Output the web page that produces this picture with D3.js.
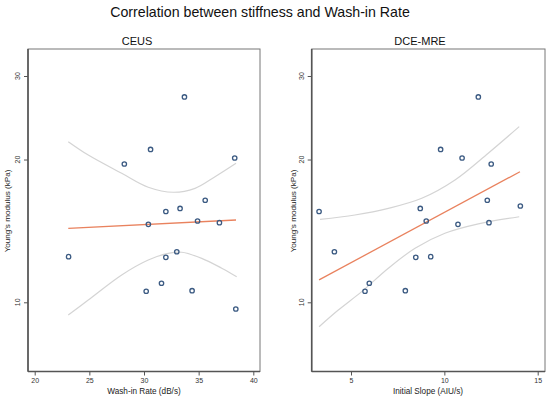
<!DOCTYPE html>
<html>
<head>
<meta charset="utf-8">
<script src="https://cdn.jsdelivr.net/npm/d3@7"></script>
<style>
  html, body { margin: 0; padding: 0; background: #fff; }
  svg { display: block; font-family: "Liberation Sans", Arial, Helvetica, sans-serif; }
</style>
</head>
<body>
<svg id="chart" width="550" height="399"></svg>
<script>
// ---------- data ----------
const mainTitle = "Correlation between stiffness and Wash-in Rate";
const panelTitles = ["CEUS", "DCE-MRE"];
const xTitles = ["Wash-in Rate (dB/s)", "Initial Slope (AIU/s)"];
const yTitle = "Young's modulus (kPa)";

const xTicksCEUS = [20, 25, 30, 35, 40];
const xTicksDCE = [5, 10, 15];
const yTicks = [10, 20, 30];

// CEUS scatter
const ceusX = [33.7, 30.6, 28.2, 38.3, 35.6, 33.3, 32.0, 30.4, 34.9, 36.9, 23.1, 32.0, 33.0, 30.2, 31.6, 34.4, 38.4];
const ceusY = [27.1, 21.0, 19.57, 20.15, 16.41, 15.77, 15.54, 14.60, 14.84, 14.72, 12.48, 12.44, 12.78, 10.55, 10.97, 10.58, 9.68];
// CEUS fit line and confidence band
const ceusFitX = [23.07, 38.42];
const ceusFitY = [14.32, 14.91];
const ceusUpX = [23.07, 24.9, 27.96, 30.39, 32.68, 34.67, 36.5, 38.42];
const ceusUpY = [21.81, 20.44, 18.71, 17.48, 17.06, 17.39, 18.40, 19.64];
const ceusLoX = [23.07, 24.9, 27.96, 30.39, 32.22, 33.45, 35.28, 37.11, 38.48];
const ceusLoY = [9.40, 10.11, 11.42, 12.28, 12.68, 12.75, 12.38, 11.80, 11.32];

// DCE-MRE scatter
const dceX = [11.82, 9.80, 10.95, 12.51, 12.30, 3.29, 8.71, 14.07, 9.03, 10.73, 12.39, 4.11, 8.47, 9.27, 5.98, 5.75, 7.91];
const dceY = [27.1, 21.0, 20.15, 19.57, 16.41, 15.54, 15.77, 15.96, 14.84, 14.60, 14.72, 12.78, 12.44, 12.48, 10.97, 10.55, 10.58];
// DCE-MRE fit line and confidence band
const dceFitX = [3.29, 14.05];
const dceFitY = [11.15, 18.85];
const dceUpX = [3.34, 5.21, 7.0, 8.79, 10.57, 12.35, 14.01];
const dceUpY = [14.96, 15.28, 15.78, 16.57, 18.11, 20.62, 23.46];
const dceLoX = [3.29, 4.32, 5.57, 7.0, 8.43, 10.03, 11.82, 14.01];
const dceLoY = [8.88, 9.63, 10.53, 11.80, 13.0, 13.98, 14.63, 15.15];

// ---------- drawing ----------
(function () {
const svg = d3.select("#chart");

svg.append("text")
  .attr("x", 260).attr("y", 17)
  .attr("text-anchor", "middle")
  .attr("font-size", 14.2)
  .attr("fill", "#111")
  .text(mainTitle);

const panels = [
  { left: 28, right: 260, titleX: 137, xTitleX: 144, yLabelX: 17, yTitleX: 7,
    xDomain: [20, 40], xPx: [34.7, 253.3], xTicks: xTicksCEUS,
    px: ceusX, py: ceusY, fx: ceusFitX, fy: ceusFitY,
    ux: ceusUpX, uy: ceusUpY, lx: ceusLoX, ly: ceusLoY,
    title: panelTitles[0], xTitle: xTitles[0] },
  { left: 311.7, right: 545, titleX: 420, xTitleX: 428, yLabelX: 301.5, yTitleX: 292.5,
    xDomain: [5, 15], xPx: [351, 537.7], xTicks: xTicksDCE,
    px: dceX, py: dceY, fx: dceFitX, fy: dceFitY,
    ux: dceUpX, uy: dceUpY, lx: dceLoX, ly: dceLoY,
    title: panelTitles[1], xTitle: xTitles[1] }
];

const plotTop = 49, plotBottom = 371.5;
const y = d3.scaleLog().domain([10, 30]).range([302.3, 76]);

panels.forEach(p => {
  const g = svg.append("g");
  const x = d3.scaleLinear().domain(p.xDomain).range(p.xPx);

  // frame
  g.append("rect")
    .attr("x", p.left).attr("y", plotTop)
    .attr("width", p.right - p.left).attr("height", plotBottom - plotTop)
    .attr("fill", "none").attr("stroke", "#777").attr("stroke-width", 1);

  // panel title
  g.append("text")
    .attr("x", p.titleX).attr("y", 44.5)
    .attr("text-anchor", "middle")
    .attr("font-size", 11)
    .attr("fill", "#111")
    .text(p.title);

  // x axis
  const xAxis = d3.axisBottom(x).tickValues(p.xTicks).tickSize(4).tickPadding(3)
    .tickFormat(d3.format("d"));
  const gx = g.append("g").attr("transform", `translate(0,${plotBottom})`).call(xAxis);
  gx.select(".domain").attr("d", `M${p.left},0H${p.right}`).attr("stroke", "#555").attr("stroke-width", 1.6);
  gx.selectAll(".tick line").attr("stroke", "#555");
  gx.selectAll(".tick text").attr("font-size", 7).attr("fill", "#333")
    .attr("font-family", "Liberation Sans, Arial, sans-serif");

  // y axis
  const yAxis = d3.axisLeft(y).tickValues(yTicks).tickSize(4).tickFormat(d3.format("d"));
  const gy = g.append("g").attr("transform", `translate(${p.left},0)`).call(yAxis);
  gy.select(".domain").attr("d", `M0,${plotTop}V${plotBottom}`).attr("stroke", "#555").attr("stroke-width", 1.6);
  gy.selectAll(".tick line").attr("stroke", "#555");
  gy.selectAll(".tick text").remove();
  yTicks.forEach(t => {
    g.append("text")
      .attr("transform", `translate(${p.yLabelX + 2.5},${y(t)}) rotate(-90)`)
      .attr("text-anchor", "middle")
      .attr("font-size", 7)
      .attr("fill", "#333")
      .text(t);
  });

  // axis titles
  g.append("text")
    .attr("x", p.xTitleX).attr("y", 393.5)
    .attr("text-anchor", "middle")
    .attr("font-size", 8.2)
    .attr("fill", "#222")
    .text(p.xTitle);
  g.append("text")
    .attr("transform", `translate(${p.yTitleX + 3},211) rotate(-90)`)
    .attr("text-anchor", "middle")
    .attr("font-size", 8.1)
    .attr("fill", "#222")
    .text(yTitle);

  // confidence band curves
  const line = d3.line().x(d => x(d[0])).y(d => y(d[1])).curve(d3.curveCatmullRom.alpha(0.5));
  g.append("path")
    .datum(p.ux.map((v, i) => [v, p.uy[i]]))
    .attr("d", line).attr("fill", "none").attr("stroke", "#d4d4d4").attr("stroke-width", 1.2);
  g.append("path")
    .datum(p.lx.map((v, i) => [v, p.ly[i]]))
    .attr("d", line).attr("fill", "none").attr("stroke", "#d4d4d4").attr("stroke-width", 1.2);

  // fit line
  g.append("path")
    .datum(p.fx.map((v, i) => [v, p.fy[i]]))
    .attr("d", d3.line().x(d => x(d[0])).y(d => y(d[1])))
    .attr("fill", "none").attr("stroke", "#e9825e").attr("stroke-width", 1.3);

  // points
  g.selectAll("circle.pt")
    .data(p.px.map((v, i) => [v, p.py[i]]))
    .join("circle")
    .attr("class", "pt")
    .attr("cx", d => x(d[0])).attr("cy", d => y(d[1]))
    .attr("r", 2.2)
    .attr("fill", "none")
    .attr("stroke", "#3b5a82")
    .attr("stroke-width", 1.3);
});
})();
</script>
</body>
</html>
